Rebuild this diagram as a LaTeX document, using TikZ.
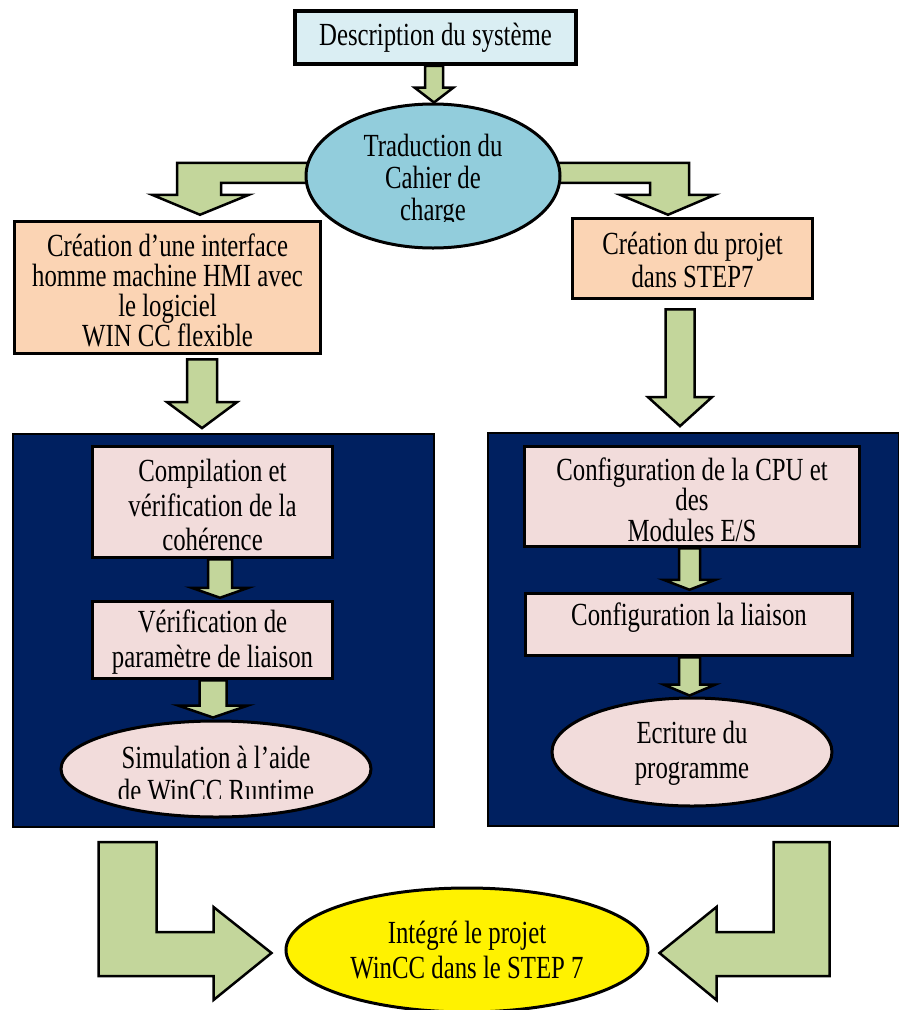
\documentclass[tikz,border=0pt]{standalone}
\usepackage{fontspec}
\usepackage{graphicx}
\setmainfont{Liberation Serif}
\usetikzlibrary{shapes.geometric,calc}

\pgfdeclarelayer{panels}
\pgfdeclarelayer{arrows}
\pgfsetlayers{panels,arrows,main}

\definecolor{descfill}{HTML}{DAEEF3}
\definecolor{tradfill}{HTML}{92CDDC}
\definecolor{peach}{HTML}{FBD4B4}
\definecolor{pinkfill}{HTML}{F2DCDB}
\definecolor{navy}{HTML}{002060}
\definecolor{olive}{HTML}{C3D69B}

% centred lines, slightly tall type; #1 = baselineskip before the vertical stretch
\newcommand\lines[2]{\scalebox{1}[1.3]{\vbox{\fontsize{24.8}{#1}\selectfont\lineskiplimit=-100pt\halign{\hfil##\hfil\cr#2\crcr}}}}

% straight block arrow: start, tip, half shaft width, half head width, head length
\newcommand\vblock[5]{%
  \draw[garrow] let \p1=(#1), \p2=(#2) in
    (\x2-#3pt,\y1) -- (\x2+#3pt,\y1) -- (\x2+#3pt,\y2+#5pt) -- (\x2+#4pt,\y2+#5pt)
    -- (\x2,\y2) -- (\x2-#4pt,\y2+#5pt) -- (\x2-#3pt,\y2+#5pt) -- cycle;}

\tikzset{
  box/.style={draw=black, line width=3.5pt, rectangle, inner sep=0pt},
  ell/.style={draw=black, line width=3pt, ellipse, inner sep=0pt},
  panel/.style={draw=black, fill=navy, line width=1.8pt, rectangle, inner sep=0pt},
  garrow/.style={draw=black, fill=olive, line width=2.5pt, line join=miter},
  txt/.style={inner sep=0pt}
}

\begin{document}
\begin{tikzpicture}[x=1pt,y=-1pt]
\useasboundingbox (0,0) rectangle (898,1010);

% top of the chart
\node[box, fill=descfill, minimum width=281pt, minimum height=53pt] (desc) at (435.5,37.5) {};
\node[txt] (descT) at (435.5,38) {\lines{25}{Description du système}};

\node[ell, fill=tradfill, minimum width=254pt, minimum height=144pt] (trad) at (433,176) {};
\begin{scope}
  \clip (0,0) rectangle (898,221);
  \node[txt] (tradT) at (433,181) {\lines{24.6}{Traduction du\cr Cahier de\cr charge}};
\end{scope}

\node[box, fill=peach, minimum width=306pt, minimum height=132pt] (orangeL) at (167.5,287.5) {};
\node[txt] (orangeLT) at (167.5,290) {\lines{23.1}{Création d’une interface\cr homme machine HMI avec\cr le logiciel\cr WIN CC flexible}};

\node[box, fill=peach, minimum width=240pt, minimum height=80pt] (orangeR) at (692.5,258.5) {};
\node[txt] (orangeRT) at (692.5,260) {\lines{25.4}{Création du projet\cr dans STEP7}};

% the two dark panels
\begin{pgfonlayer}{panels}
  \node[panel, minimum width=421pt, minimum height=393pt] (panelL) at (223.5,630.5) {};
  \node[panel, minimum width=411pt, minimum height=393pt] (panelR) at (693.5,629.5) {};
\end{pgfonlayer}

% left panel
\node[box, fill=pinkfill, minimum width=240pt, minimum height=111pt] (boxC) at (212.5,502) {};
\node[txt] (boxCT) at (212.5,505) {\lines{26.2}{Compilation et\cr vérification de la\cr cohérence}};

\node[box, fill=pinkfill, minimum width=240pt, minimum height=77pt] (boxV) at (212.5,640) {};
\node[txt] (boxVT) at (212.5,642) {\lines{26.9}{Vérification de\cr paramètre de liaison}};

\node[ell, fill=pinkfill, minimum width=310pt, minimum height=96pt] (ellS) at (216,769) {};
\begin{scope}
  \clip (0,0) rectangle (898,798);
  \node[txt] (ellST) at (216,774) {\lines{25.4}{Simulation à l’aide\cr de WinCC Runtime}};
\end{scope}

% right panel
\node[box, fill=pinkfill, minimum width=335pt, minimum height=100pt] (boxCPU) at (692,496.5) {};
\node[txt] (boxCPUT) at (692,499.5) {\lines{23.4}{Configuration de la CPU et\cr des\cr Modules E/S}};

\node[box, fill=pinkfill, minimum width=327pt, minimum height=62pt] (boxLi) at (689,624.5) {};
\node[txt] (boxLiT) at (689,618) {\lines{25}{Configuration la liaison}};

\node[ell, fill=pinkfill, minimum width=280pt, minimum height=108pt] (ellE) at (692,752) {};
\node[txt] (ellET) at (692,753.5) {\lines{26.9}{Ecriture du\cr programme}};

% final step
\node[ell, fill=yellow, minimum width=362pt, minimum height=124pt] (ellI) at (467,950) {};
\node[txt] (ellIT) at (467,950.5) {\lines{26.9}{Intégré le projet\cr WinCC dans le STEP 7}};

% block arrows
\begin{pgfonlayer}{arrows}
  \vblock{desc.south}{[xshift=1pt]trad.north}{9}{19.5}{15}
  \draw[garrow] ([xshift=32.5pt,yshift=5pt]orangeL.north) -- ++(-48,-20) -- ++(25,0)
    -- ++(0,-32) -- ++(138,0) -- ++(0,20) -- ++(-94,0) -- ++(0,12) -- ++(28,0) -- cycle;
  \draw[garrow] ([xshift=-24.5pt,yshift=2pt]orangeR.north) -- ++(-48,-20) -- ++(30,0)
    -- ++(0,-12) -- ++(-100,0) -- ++(0,-20) -- ++(139,0) -- ++(0,32) -- ++(26,0) -- cycle;
  \vblock{[yshift=-4pt]orangeL.south}{[xshift=-21.5pt,yshift=5pt]panelL.north}{15}{35}{26}
  \vblock{[yshift=-9pt]orangeR.south}{[xshift=-13.5pt,yshift=6pt]panelR.north}{14.5}{32}{29}
  \vblock{boxC.south}{[xshift=7.5pt,yshift=2pt]boxV.north}{12}{28.5}{10}
  \vblock{boxV.south}{[xshift=-3pt,yshift=2pt]ellS.north}{13.5}{35}{12}
  \vblock{boxCPU.south}{[xshift=0.5pt,yshift=2pt]boxLi.north}{10.5}{26}{10}
  \vblock{boxLi.south}{[xshift=-2.5pt,yshift=1pt]ellE.north}{10.5}{26}{11}
  \draw[garrow] ([xshift=-13pt,yshift=-3pt]ellI.west) -- ++(-58,47) -- ++(0,-24)
    -- ++(-115,0) -- ++(0,-134) -- ++(58,0) -- ++(0,90) -- ++(57,0) -- ++(0,-25) -- cycle;
  \draw[garrow] ([xshift=10pt,yshift=-3pt]ellI.east) -- ++(57,-46) -- ++(0,25)
    -- ++(57,0) -- ++(0,-90) -- ++(56,0) -- ++(0,134) -- ++(-113,0) -- ++(0,24) -- cycle;
\end{pgfonlayer}
\end{tikzpicture}
\end{document}
